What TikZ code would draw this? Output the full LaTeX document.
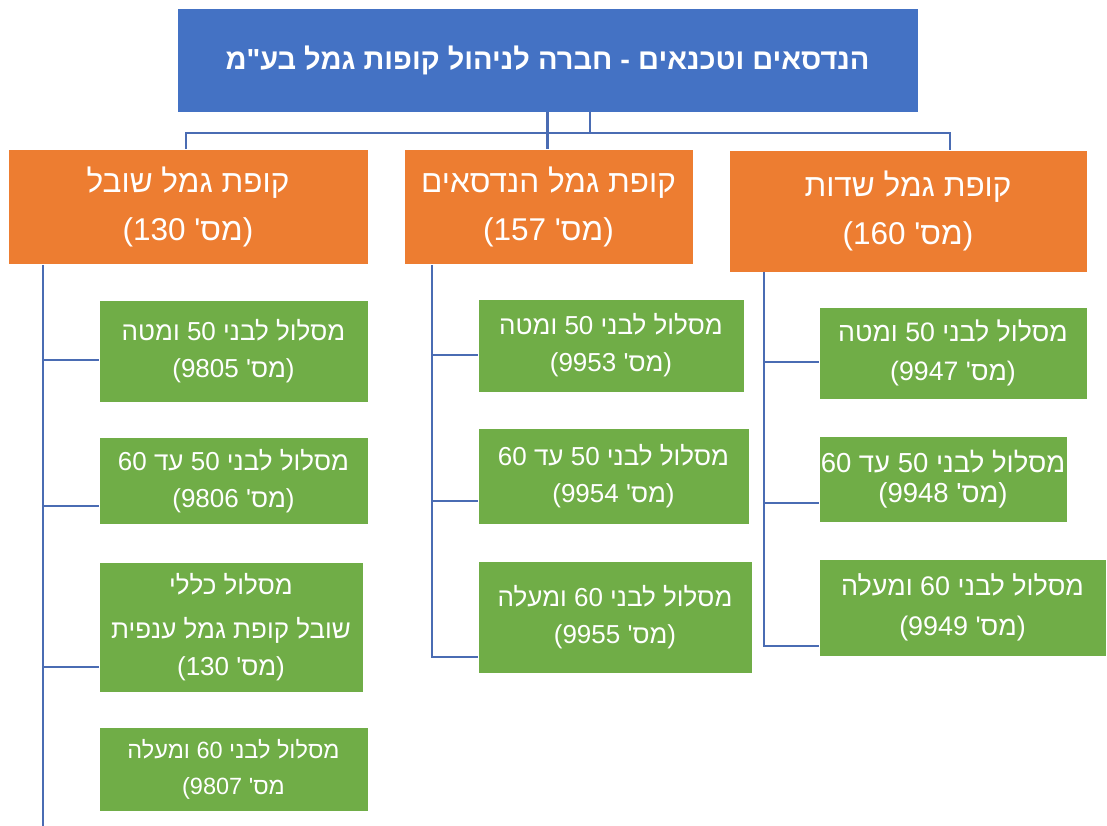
\documentclass[tikz,border=0pt]{standalone}
\usepackage{fontspec}
\usepackage{tikz}
\newfontfamily\hebfont[Script=Hebrew,Ligatures=TeXOff]{Liberation Sans}
\TeXXeTstate=1
\newcommand{\heb}[1]{\beginR #1\endR}
\definecolor{topblue}{HTML}{4472C4}
\definecolor{fundorange}{HTML}{ED7D31}
\definecolor{trackgreen}{HTML}{70AD47}
\definecolor{linkblue}{HTML}{4A6CB3}

\begin{document}
\begin{tikzpicture}[x=1pt, y=-1pt,
    box/.style={rectangle, draw=white, line width=0.6pt, text=white, align=center, inner sep=0pt},
    head/.style={box, fill=topblue, font=\hebfont\bfseries\fontsize{29}{34}\selectfont},
    fund/.style={box, fill=fundorange, font=\hebfont\fontsize{31.5}{48}\selectfont},
    track/.style={box, fill=trackgreen, font=\hebfont\fontsize{26}{37}\selectfont},
    link/.style={draw=linkblue, line width=2.8pt}]
    \useasboundingbox (0,0) rectangle (1107,826);
    \node[head, minimum width=741pt, minimum height=104pt](top) at (547.5,60){\heb{הנדסאים וטכנאים - חברה לניהול קופות גמל בע"מ}};
    % funds
    \node[fund, minimum width=360pt, minimum height=115pt](shoval) at (188,207){\heb{קופת גמל שובל}\\\heb{(מס' 130)}};
    \node[fund, minimum width=289pt, minimum height=115pt](handasaim) at (548.5,207){\heb{קופת גמל הנדסאים}\\\heb{(מס' 157)}};
    \node[fund, minimum width=358pt, minimum height=122pt](sadot) at (908,211){\heb{קופת גמל שדות}\\\heb{(מס' 160)}};
    % tracks
    \node[track, minimum width=269pt, minimum height=102pt](s1) at (233.5,351){\heb{מסלול לבני 50 ומטה}\\\heb{(מס' 9805)}};
    \node[track, minimum width=269pt, minimum height=87pt](s2) at (233.5,481){\heb{מסלול לבני 50 עד 60}\\\heb{(מס' 9806)}};
    \node[track, minimum width=264pt, minimum height=130pt](s3) at (231,627){\heb{מסלול כללי}\\[7pt]\heb{שובל קופת גמל ענפית}\\\heb{(מס' 130)}};
    \node[track, minimum width=269pt, minimum height=84pt, font=\hebfont\fontsize{23.5}{36}\selectfont](s4) at (233.5,769){\heb{מסלול לבני 60 ומעלה}\\\heb{מס' 9807)}};
    \node[track, minimum width=266pt, minimum height=93pt](h1) at (611,345.5){\heb{מסלול לבני 50 ומטה}\\\heb{(מס' 9953)}};
    \node[track, minimum width=271pt, minimum height=96pt](h2) at (613.5,476){\heb{מסלול לבני 50 עד 60}\\\heb{(מס' 9954)}};
    \node[track, minimum width=274pt, minimum height=112pt](h3) at (615,617){\heb{מסלול לבני 60 ומעלה}\\\heb{(מס' 9955)}};
    \node[track, minimum width=268pt, minimum height=92pt, font=\hebfont\fontsize{26.7}{39}\selectfont](d1) at (953,353){\heb{מסלול לבני 50 ומטה}\\\heb{(מס' 9947)}};
    \node[track, minimum width=248pt, minimum height=86pt, font=\hebfont\fontsize{27.5}{30}\selectfont](d2) at (943,479){\heb{מסלול לבני 50 עד 60}\\\heb{(מס' 9948)}};
    \node[track, minimum width=287pt, minimum height=97pt, font=\hebfont\fontsize{26.9}{40}\selectfont](d3) at (962.5,607.5){\heb{מסלול לבני 60 ומעלה}\\\heb{(מס' 9949)}};
    % top connectors
    \coordinate (bar) at (590,133);
    \coordinate (barL) at (186,133);
    \coordinate (barR) at (950,133);
    \draw[link] (top.south) -- (top.south |- handasaim.north);
    \draw[link] (top.south -| bar) -- (bar);
    \draw[link] (barL |- shoval.north) -- (barL) -- (barR) -- (barR |- sadot.north);
    % fund trunks
    \coordinate (sT) at (43,360);
    \coordinate (hT) at (432,355);
    \coordinate (dT) at (764,362);
    \draw[link] (shoval.south -| sT) -- (43,826);
    \draw[link] (sT) -- (sT -| s1.west);
    \draw[link] (43,506) -- (43,506 -| s2.west);
    \draw[link] (43,667) -- (43,667 -| s3.west);
    \draw[link] (handasaim.south -| hT) -- (432,657) -- (432,657 -| h3.west);
    \draw[link] (hT) -- (hT -| h1.west);
    \draw[link] (432,501) -- (432,501 -| h2.west);
    \draw[link] (sadot.south -| dT) -- (764,646) -- (764,646 -| d3.west);
    \draw[link] (dT) -- (dT -| d1.west);
    \draw[link] (764,503) -- (764,503 -| d2.west);
\end{tikzpicture}
\end{document}
